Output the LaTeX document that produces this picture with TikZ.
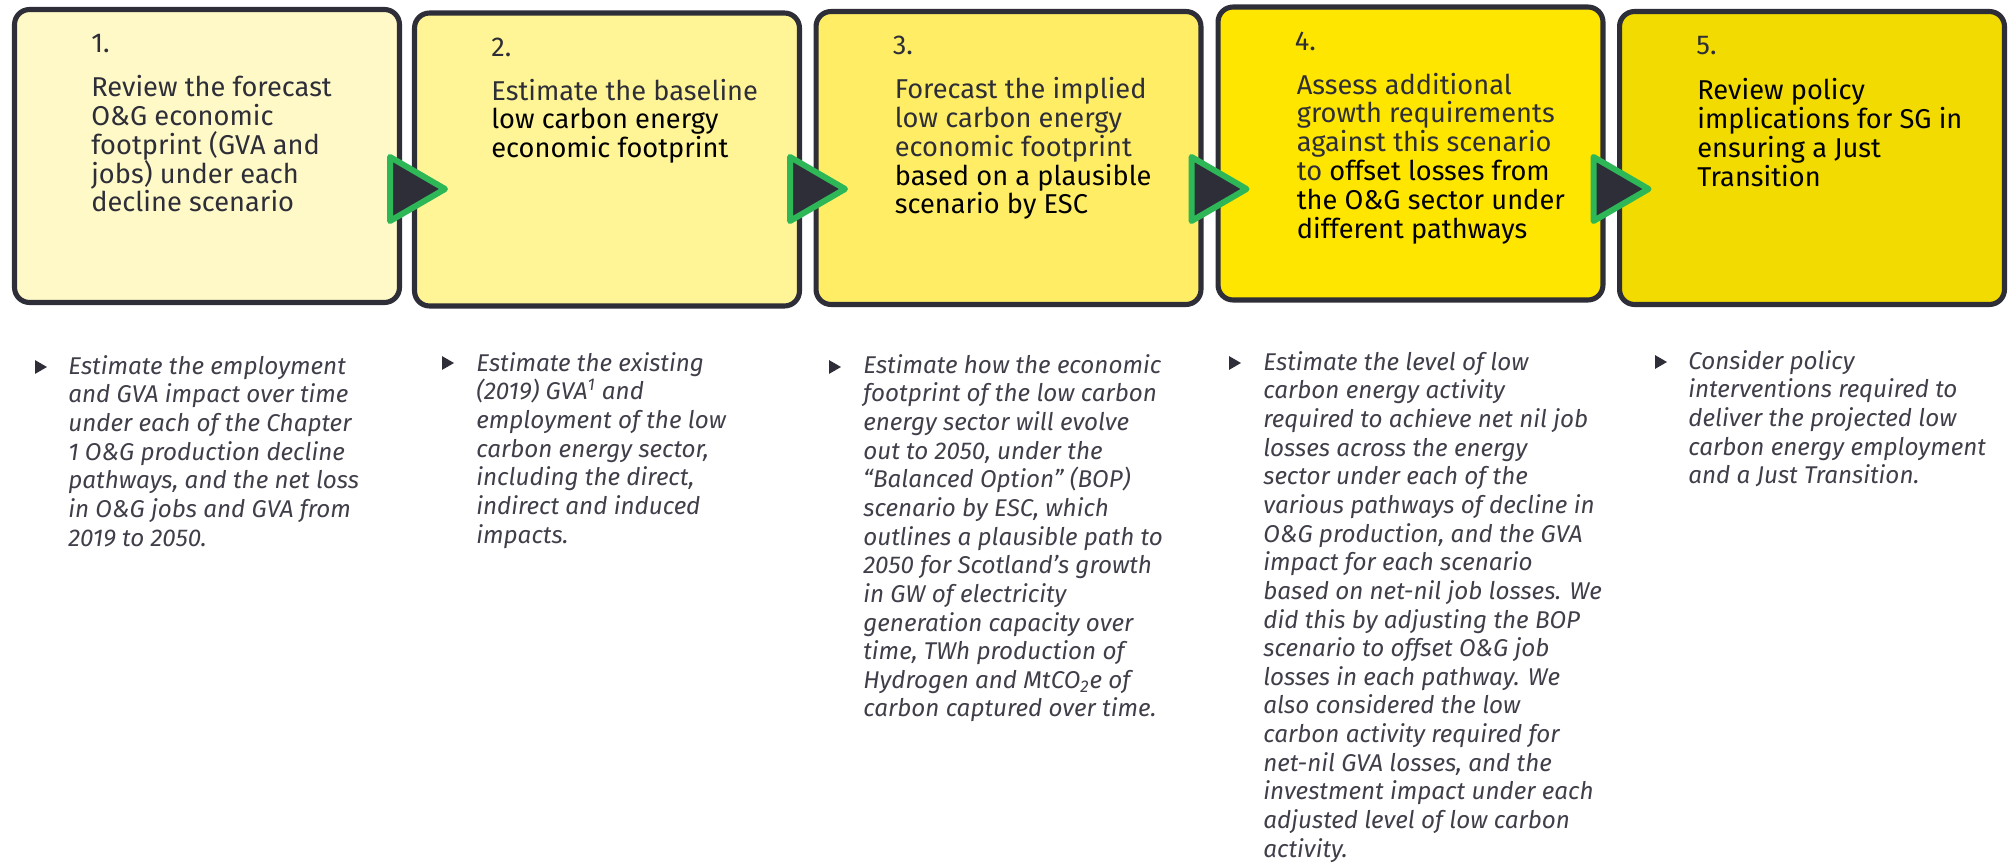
\documentclass[tikz,border=0pt]{standalone}
\usepackage{fontspec}
\setmainfont{Fira Sans}
\usetikzlibrary{positioning,calc,shapes.geometric}
\definecolor{ink}    {HTML}{2E2E38}
\definecolor{softink}{HTML}{3F3F4A}
\definecolor{eygreen}{HTML}{2DB757}
\definecolor{fillA}  {HTML}{FFF9C8}
\definecolor{fillB}  {HTML}{FFF596}
\definecolor{fillC}  {HTML}{FFED66}
\definecolor{fillD}  {HTML}{FFE600}
\definecolor{fillE}  {HTML}{F1DB00}
\tikzset{
  % --- boxes
  stage/.style = {draw=ink, line width=2.9pt, rounded corners=8.5pt,
                  minimum width=7.7cm, minimum height=5.86cm, inner sep=0pt},
  num/.style   = {anchor=base west, inner sep=0pt, text=ink,
                  font=\fontsize{15.5}{16.4}\selectfont},
  txt/.style   = {num, anchor=north west, align=left},
  % --- markers between the boxes
  tri/.style   = {draw=eygreen, fill=ink, line width=3.4pt, line join=round},
  % --- bullet notes
  bul/.style   = {isosceles triangle, fill=ink, inner sep=0pt,
                  minimum width=0.2cm, minimum height=0.24cm, isosceles triangle apex angle=60},
  note/.style  = {anchor=north west, inner sep=0pt, align=left, text=softink,
                  font=\fontsize{13.8}{16.3}\selectfont\itshape},
}
\newcommand{\blk}[1]{\textcolor{black}{#1}}
\begin{document}
\begin{tikzpicture}[x=0.02cm, y=-0.02cm]
  \useasboundingbox (0,0) rectangle (2011,864);

  % stage boxes
  \node[stage, fill=fillA] (b1) at ( 207,156)   {};
  \node[stage, fill=fillB] (b2) at ( 607,159.5) {};
  \node[stage, fill=fillC] (b3) at (1008.5,158) {};
  \node[stage, fill=fillD] (b4) at (1410.5,153.5) {};
  \node[stage, fill=fillE] (b5) at (1812,158)   {};

  % arrows between the stages
  \foreach \i in {1,...,4}
    \draw[tri] ($(b\i.east |- 0,189)+(-12,0)$) -- ++(0,-32) -- ++(55,32) -- ++(-55,32) -- cycle;

  % numbers
  \foreach \i in {1,...,5}
    \node[num] (n\i) at ($(b\i.north west)+(79,46)$) {\i.};

  % box texts
  \node[txt] (t1) at ($(b1.north west)+(79,68)$)
    {Review the forecast\\O\&G economic\\footprint (GVA and\\jobs) under each\\decline scenario};
  \node[txt] (t2) at ($(b2.north west)+(79,68)$)
    {Estimate the baseline\\\blk{low carbon energy}\\\blk{economic footprint}};
  \node[txt] (t3) at ($(b3.north west)+(81,68)$)
    {Forecast the implied\\low carbon energy\\economic footprint\\\blk{based on a plausible}\\\blk{scenario by ESC}};
  \node[txt] (t4) at ($(b4.north west)+(81,68)$)
    {Assess additional\\growth requirements\\against this scenario\\to \blk{offset losses from}\\\blk{the O\&G sector under}\\\blk{different pathways}};
  \node[txt, text=black] (t5) at ($(b5.north west)+(80,69)$)
    {Review policy\\implications for SG in\\ensuring a Just\\Transition};

  % bullets
  \node[bul] (u1) at (  39,367) {};
  \node[bul] (u2) at ( 446,363) {};
  \node[bul] (u3) at ( 833,367) {};
  \node[bul] (u4) at (1233,363) {};
  \node[bul] (u5) at (1659,362) {};

  % notes
  \node[note] (d1) at (68,355)
    {Estimate the employment\\and GVA impact over time\\under each of the Chapter\\1 O\&G production decline\\pathways, and the net loss\\in O\&G jobs and GVA from\\2019 to 2050.};
  \node[note] (d2) at (476,352)
    {Estimate the existing\\(2019) GVA\textsuperscript{1} and\\employment of the low\\carbon energy sector,\\including the direct,\\indirect and induced\\impacts.};
  \node[note] (d3) at (863,354)
    {Estimate how the economic\\footprint of the low carbon\\energy sector will evolve\\out to 2050, under the\\“Balanced Option” (BOP)\\scenario by ESC, which\\outlines a plausible path to\\2050 for Scotland’s growth\\in GW of electricity\\generation capacity over\\time, TWh production of\\Hydrogen and MtCO\textsubscript{2}e of\\carbon captured over time.};
  \node[note] (d4) at (1263,351)
    {Estimate the level of low\\carbon energy activity\\required to achieve net nil job\\losses across the energy\\sector under each of the\\various pathways of decline in\\O\&G production, and the GVA\\impact for each scenario\\based on net-nil job losses. We\\did this by adjusting the BOP\\scenario to offset O\&G job\\losses in each pathway. We\\also considered the low\\carbon activity required for\\net-nil GVA losses, and the\\investment impact under each\\adjusted level of low carbon\\activity.};
  \node[note] (d5) at (1688,350)
    {Consider policy\\interventions required to\\deliver the projected low\\carbon energy employment\\and a Just Transition.};
\end{tikzpicture}
\end{document}
